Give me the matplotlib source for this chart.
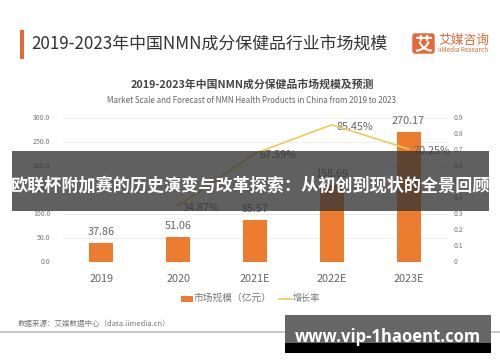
import matplotlib
matplotlib.use("Agg")
import matplotlib.pyplot as plt
from matplotlib.patches import Rectangle, FancyBboxPatch

plt.rcParams['font.family'] = ['Noto Sans CJK SC', 'DejaVu Sans']

categories = ['2019', '2020', '2021E', '2022E', '2023E']
market_size = [37.86, 51.06, 85.57, 158.69, 270.17]
growth_cats = [1, 2, 3, 4]
growth_rate = [0.3487, 0.6759, 0.8545, 0.7025]
growth_labels = ['34.87%', '67.59%', '85.45%', '70.25%']
left_ticks = [0, 50, 100, 150, 200, 250, 300]
right_ticks = [0, 0.1, 0.2, 0.3, 0.4, 0.5, 0.6, 0.7, 0.8, 0.9]
right_labels = ['0', '0.1', '0.2', '0.3', '0.4', '0.5', '0.6', '0.7', '0.8', '0.9']

W, H = 500, 362
fig = plt.figure(figsize=(5, 3.62), dpi=100, facecolor='white')

ax = fig.add_axes([63/W, 1-261.5/H, 384/W, 144/H])
ax.bar(range(5), market_size, width=0.31, color='#EC7C30', zorder=2)
ax.set_xlim(-0.5, 4.5)
ax.set_ylim(0, 300)
ax.set_yticks(left_ticks, [f'{v:.1f}' for v in left_ticks])
ax.set_xticks(range(5), categories)
ax.tick_params(axis='y', length=0, labelsize=5, labelcolor='#777777', pad=9)
ax.tick_params(axis='x', length=0, labelsize=7.8, labelcolor='#666666', pad=9)
ax.grid(axis='y', color='#EDEDED', lw=0.7, zorder=0)
ax.set_axisbelow(True)
for s in ax.spines.values():
    s.set_visible(False)
for i, v in enumerate(market_size):
    ax.annotate(f'{v:.2f}', (i, v), xytext=(0, 4.5), textcoords='offset points',
                ha='center', va='bottom', fontsize=7.8, color='#666666', zorder=3)

ax2 = ax.twinx()
ax2.plot(growth_cats, growth_rate, color='#F2C75C', lw=1.2, zorder=4)
ax2.set_ylim(0, 0.9)
ax2.set_yticks(right_ticks, right_labels)
ax2.tick_params(axis='y', length=0, labelsize=5, labelcolor='#777777', pad=5)
for s in ax2.spines.values():
    s.set_visible(False)
for x, y, t in zip(growth_cats, growth_rate, growth_labels):
    ax2.annotate(t, (x, y), xytext=(16.5, -1.5), textcoords='offset points', ha='center',
                 va='center', fontsize=7.8, color='#666666')

# Page furniture, placed in pixel coordinates
ov = fig.add_axes([0, 0, 1, 1], facecolor='none')
ov.set_xlim(0, W)
ov.set_ylim(H, 0)
ov.axis('off')
ov.add_patch(Rectangle((19.5, 30), 4.5, 29, color='#E4683A', lw=0))
ov.text(31, 43.5, '2019-2023年中国NMN成分保健品行业市场规模', fontsize=12.2,
        color='#333333', weight='medium', va='center', ha='left')
ov.add_patch(FancyBboxPatch((413, 34), 21, 19, boxstyle='round,pad=0,rounding_size=2',
                            fc='#E4683A', ec='#E4683A', lw=1))
ov.text(423.5, 43.5, '艾', fontsize=13, color='white', weight='bold', ha='center', va='center')
ov.text(438, 40.5, '艾媒咨询', fontsize=9.2, color='#E4683A', ha='left', va='center')
ov.text(438, 50.5, 'iiMedia Research', fontsize=4.6, color='#E4683A', ha='left', va='center')
ov.text(252, 84, '2019-2023年中国NMN成分保健品市场规模及预测', fontsize=7.8,
        color='#444444', weight='bold', ha='center', va='center')
ov.text(252, 100.5, 'Market Scale and Forecast of NMN Health Products in China from 2019 to 2023',
        fontsize=5.8, color='#666666', ha='center', va='center')

# Legend
ov.add_patch(Rectangle((181, 296), 12, 5.5, color='#EC7C30', lw=0))
ov.text(194, 298, '市场规模（亿元）', fontsize=7, color='#777777', ha='left', va='center')
ov.plot([279, 292], [298.5, 298.5], color='#F2C75C', lw=1.2)
ov.text(293, 298, '增长率', fontsize=6.6, color='#777777', ha='left', va='center')

# Footer
ov.text(18, 324, '数据来源：艾媒数据中心（data.iimedia.cn）', fontsize=5.4, color='#777777',
        ha='left', va='center')
ov.plot([0, 500], [332, 332], color='#BDBDBD', lw=1.2)

# Banner overlays
ov.add_patch(Rectangle((12, 151), 477, 60, fc='#333333', alpha=0.78, lw=0, zorder=5))
ov.text(250.5, 186, '欧联杯附加赛的历史演变与改革探索：从初创到现状的全景回顾', fontsize=12.3,
        color='white', weight='bold', ha='center', va='center', zorder=6)
ov.add_patch(Rectangle((285, 315), 206, 28, fc='#666666', lw=0, zorder=5))
ov.add_patch(Rectangle((285, 343), 206, 10, fc='black', lw=0, zorder=5))
ov.text(388, 337, 'www.vip-1haoent.com', fontsize=12, color='white', weight='bold',
        family=['Open Sans', 'DejaVu Sans'], ha='center', va='center', zorder=6)

fig.savefig('out.png', dpi=100)
